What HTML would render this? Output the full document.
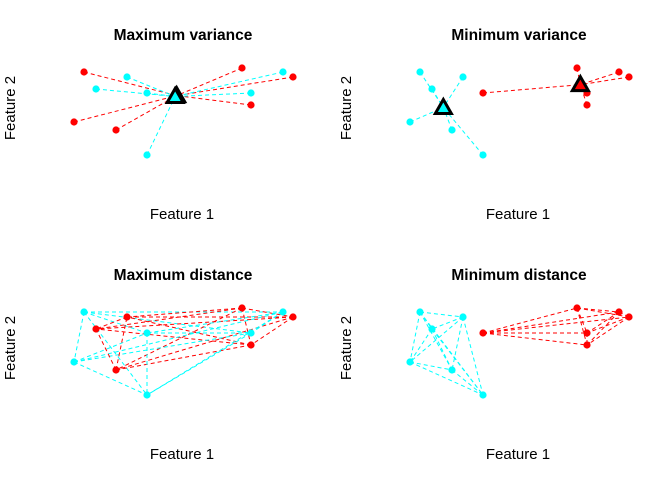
<!DOCTYPE html>
<html><head><meta charset="utf-8"><style>
body{margin:0;background:#fff;}
svg text{font-family:"Liberation Sans",Arial,sans-serif;}
</style></head><body>
<svg id="chart" width="672" height="480" viewBox="0 0 672 480" xmlns="http://www.w3.org/2000/svg">
<rect width="672" height="480" fill="#fff"/>
</svg>
<script>
// Point features (data units) for the left dataset
const leftX = [24, 182, 233, 191, 14, 56, 67, 223, 36, 87, 191, 87];
const leftY = [17, 13, 22, 50, 67, 75, 22, 17, 34, 38, 38, 100];
const leftVarLabels = [0,0,0,0,0,0,1,1,1,1,1,1];
const leftDistLabels = [1,0,0,0,1,0,0,1,0,1,1,1];
// Point features for the right dataset
const rightX = [25, 68, 37, 15, 57, 88, 88, 182, 224, 234, 192, 192];
const rightY = [17, 22, 34, 67, 75, 100, 38, 13, 17, 22, 38, 50];
const rightLabels = [1,1,1,1,1,1,0,0,0,0,0,0];
const titles = ["Maximum variance","Minimum variance","Maximum distance","Minimum distance"];
const colors = ["#FF0000","#00FFFF"];
const fills = ["#FF0000","#00FFFF"];

const svg = document.getElementById('chart');
const NS = 'http://www.w3.org/2000/svg';
function mk(tag, attrs){const e=document.createElementNS(NS,tag);for(const k in attrs)e.setAttribute(k,attrs[k]);svg.appendChild(e);return e;}
function sx(panel, v){return (panel%2===0?60:395)+v;}
function sy(panel, v){return (panel<2?55:295)+v;}

function panelFrame(p){
  const cx = p%2===0?183:519, oy = p<2?0:240;
  const t = mk('text',{x:cx,y:40+oy,'text-anchor':'middle','font-size':'15.5','font-weight':'bold',fill:'#000'});
  t.textContent = titles[p];
  
  
  const xl = mk('text',{x:cx-1,y:219+oy,'text-anchor':'middle','font-size':'15',fill:'#000'});
  xl.textContent='Feature 1';
  
  
  const lx = p%2===0?10:346, ly=108+oy;
  const yl = mk('text',{x:lx,y:ly,'text-anchor':'middle','font-size':'15',fill:'#000',transform:`rotate(-90 ${lx} ${ly})`,dy:'5'});
  yl.textContent='Feature 2';
  
  
}
function line(p,x1,y1,x2,y2,c){
  const l = mk('line',{x1:sx(p,x1),y1:sy(p,y1),x2:sx(p,x2),y2:sy(p,y2),stroke:colors[c],'stroke-width':1,'stroke-dasharray':'4,3'});
  
  
}
function pts(p,X,Y,L){
  for(let i=0;i<X.length;i++){
    const c = mk('circle',{cx:sx(p,X[i]),cy:sy(p,Y[i]),r:3.6,fill:fills[L[i]]});
    
    
  }
}
function varPanel(p,X,Y,L){
  const cents=[];
  for(const c of [0,1]){
    let sxv=0,syv=0,n=0;
    for(let i=0;i<X.length;i++) if(L[i]===c){sxv+=X[i];syv+=Y[i];n++;}
    cents.push([sxv/n,syv/n]);
  }
  for(let i=0;i<X.length;i++){const c=cents[L[i]];line(p,X[i],Y[i],c[0],c[1],L[i]);}
  pts(p,X,Y,L);
  for(const c of [0,1]){
    const x=sx(p,cents[c][0]), y=sy(p,cents[c][1]);
    const tr = mk('polygon',{points:`${x},${y-8} ${x-8},${y+6} ${x+8},${y+6}`,fill:fills[c],stroke:'#000','stroke-width':3,'stroke-linejoin':'miter'});
    
    
  }
}
function distPanel(p,X,Y,L){
  for(let i=0;i<X.length;i++)for(let j=i+1;j<X.length;j++) if(L[i]===L[j]) line(p,X[i],Y[i],X[j],Y[j],L[i]);
  pts(p,X,Y,L);
}
for(let p=0;p<4;p++) panelFrame(p);
varPanel(0,leftX,leftY,leftVarLabels);
varPanel(1,rightX,rightY,rightLabels);
distPanel(2,leftX,leftY,leftDistLabels);
distPanel(3,rightX,rightY,rightLabels);
</script>
</body></html>
